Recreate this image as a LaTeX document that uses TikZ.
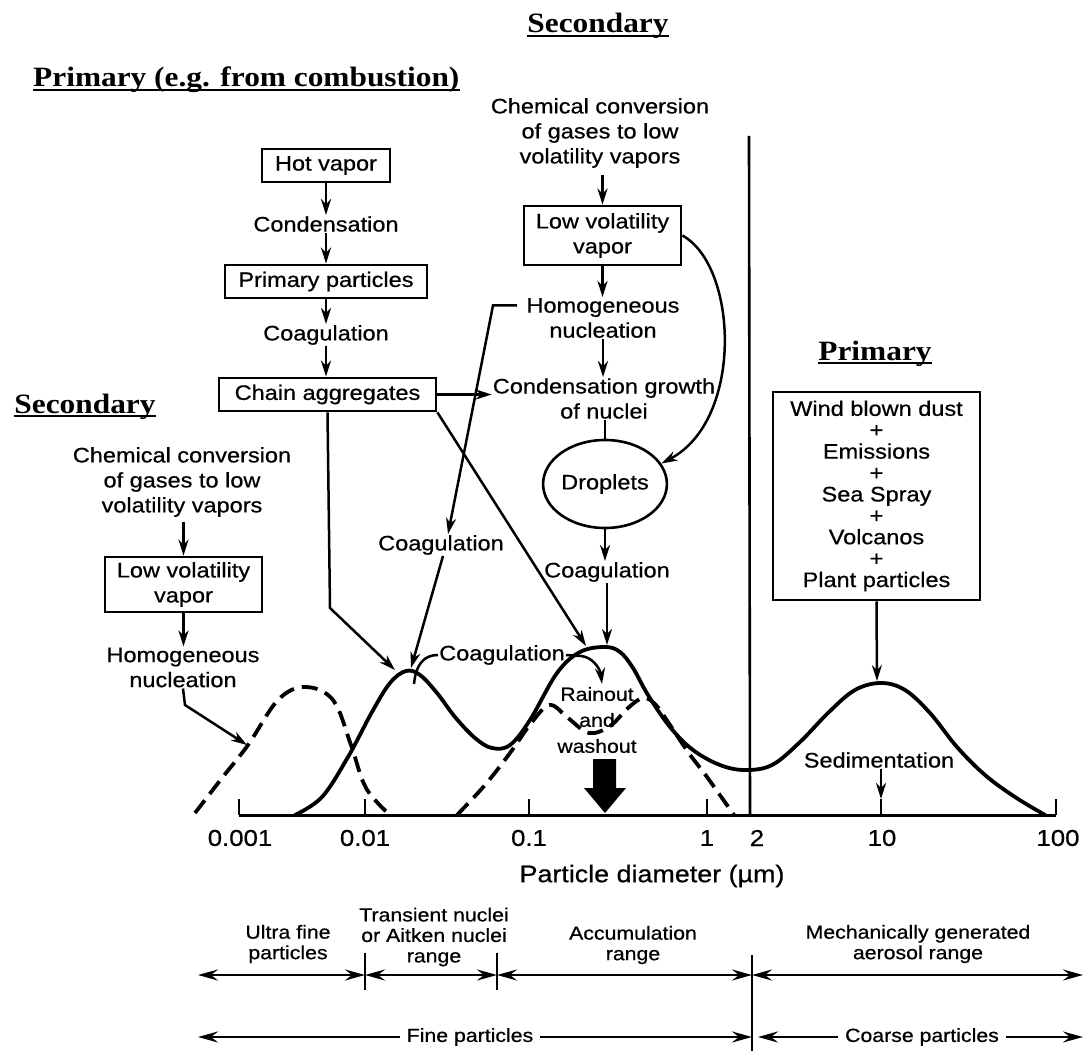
\documentclass[tikz,border=0pt]{standalone}
\usepackage{fontspec}
\setmainfont{Liberation Sans}[FakeStretch=1.12,FakeBold=0.6]
\newfontfamily\headfont{Liberation Serif}[FakeStretch=1.12]
\usetikzlibrary{arrows.meta,shapes.geometric}
\tikzset{
  lbl/.style={align=center, inner sep=1pt, font=\fontsize{21}{25}\selectfont},
  box/.style={draw, line width=2.8pt, inner sep=2pt, align=center, font=\fontsize{21}{25}\selectfont},
  head/.style={inner sep=0pt, font=\headfont\bfseries\fontsize{28}{30}\selectfont},
  uline/.style={line width=2.2pt},
  conn/.style={line width=2.5pt, -{Stealth[length=16pt,width=10pt,inset=5pt]}},
  plainline/.style={line width=2.5pt},
  curve/.style={line width=3.8pt, line join=round, line cap=round},
  dcurve/.style={line width=3.8pt, line join=round, dash pattern=on 16pt off 8pt},
  axnum/.style={font=\fontsize{23}{25}\selectfont, inner sep=0pt},
  rng/.style={align=center, inner sep=1pt, font=\fontsize{19}{20.5}\selectfont},
  dbl/.style={line width=2.6pt, {Stealth[length=20pt,width=11pt,inset=7pt]}-{Stealth[length=20pt,width=11pt,inset=7pt]}},
  one/.style={line width=2.6pt, -{Stealth[length=20pt,width=11pt,inset=7pt]}},
}
\begin{document}
\begin{tikzpicture}[x=1pt,y=-1pt]
\useasboundingbox (0,0) rectangle (1088,1051);
\fill[white] (0,0) rectangle (1088,1051);

% headings
\node[head, anchor=base] (secT) at (598,33) {Secondary};
\draw[uline] ([yshift=-3pt]secT.base west) -- ([yshift=-3pt]secT.base east);
\node[head, anchor=base west] (primT) at (33,87) {Primary (e.g. from combustion)};
\draw[uline] ([yshift=-3pt]primT.base west) -- ([yshift=-3pt]primT.base east);
\node[head, anchor=base] (secL) at (85,413) {Secondary};
\draw[uline] ([yshift=-3pt]secL.base west) -- ([yshift=-3pt]secL.base east);
\node[head, anchor=base] (primR) at (875,360) {Primary};
\draw[uline] ([yshift=-3pt]primR.base west) -- ([yshift=-3pt]primR.base east);

% primary combustion column
\node[box, minimum width=128pt, minimum height=33pt] (hot) at (326,165.5) {Hot vapor};
\node[lbl] (cond) at (326,224) {Condensation};
\node[box, minimum width=202pt, minimum height=33pt] (pp) at (326,281.5) {Primary particles};
\node[lbl] (coag1) at (326,335) {Coagulation};
\node[box, minimum width=217pt, minimum height=33pt] (chain) at (327.5,394.5) {Chain aggregates};
\draw[conn] (hot.south) -- (cond.north);
\draw[conn] (cond.south) -- (pp.north);
\draw[conn] (pp.south) -- (coag1.north);
\draw[conn] (coag1.south) -- (coag1.south |- chain.north);

% secondary top column
\node[lbl] (chemT) at (600,133) {Chemical conversion\\of gases to low\\volatility vapors};
\node[box, minimum width=157pt, minimum height=59pt] (lvT) at (602.5,235.5) {Low volatility\\vapor};
\node[lbl] (homT) at (603,318) {Homogeneous\\nucleation};
\node[lbl] (cgT) at (604,398.5) {Condensation growth\\of nuclei};
\node[draw, ellipse, line width=2.6pt, minimum width=102pt, minimum height=88pt, inner sep=0pt, font=\fontsize{21}{25}\selectfont] (drop) at (605,484) {Droplets};
\node[lbl] (coagR) at (607,572) {Coagulation};
\draw[conn, shorten <=6pt] (chemT.south -| lvT.north) -- (lvT.north);
\draw[conn] (lvT.south) -- (lvT.south |- homT.north);
\draw[conn] (homT.south) -- (homT.south |- cgT.north);
\draw[plainline] (cgT.south -| drop.north) -- (drop.north);
\draw[conn] (drop.south) -- (drop.south |- coagR.north);
\draw[conn] (lvT.east) .. controls (738,266) and (744,420) .. (drop.20);

% secondary left column
\node[lbl] (chemL) at (182,482) {Chemical conversion\\of gases to low\\volatility vapors};
\node[box, minimum width=157pt, minimum height=55pt] (lvL) at (183.5,584.5) {Low volatility\\vapor};
\node[lbl] (homL) at (183,667.5) {Homogeneous\\nucleation};
\draw[conn, shorten <=4pt] (chemL.south -| lvL.north) -- (lvL.north);
\draw[conn] (lvL.south) -- (lvL.south |- homL.north);
\coordinate (nucTip) at (247,745);
\coordinate (nucBend) at (185,705);
\draw[conn] (homL.south) -- (nucBend) -- (nucTip);

% middle labels
\node[lbl] (coagM) at (441,545) {Coagulation};
\node[lbl] (coagLo) at (502,655) {Coagulation};
\node[lbl, font=\fontsize{19}{26}\selectfont] (rain) at (597,720) {Rainout\\and\\washout};
\node[lbl] (sed) at (879,760) {Sedimentation};

% right primary box
\node[box, minimum width=207pt, minimum height=208pt, font=\fontsize{21}{21.4}\selectfont] (wind) at (876.5,496) {Wind blown dust\\+\\Emissions\\+\\Sea Spray\\+\\Volcanos\\+\\Plant particles};

% peak coordinates
\coordinate (pk1a) at (395,670);
\coordinate (pk1b) at (411,668);
\coordinate (pk2a) at (586,646);
\coordinate (pk2b) at (607,645);
\coordinate (pk3) at (877,681);
\coordinate (rainTip) at (602,684);
\coordinate (chainBend) at (330,608);
\coordinate (homStart) at (517,305.5);
\coordinate (homBend) at (493,305.5);

% connectors to peaks
\draw[conn] (chain.south) -- (chainBend) -- (pk1a);
\draw[conn] (chain.south east) -- (pk2a);
\draw[conn] (chain.east) -- (chain.east -| cgT.west);
\draw[conn] (homStart) -- (homBend) -- ([xshift=7pt]coagM.north);
\draw[conn] ([xshift=2pt]coagM.south) -- (pk1b);
\draw[conn] (coagR.south) -- (pk2b);
\draw[conn] (wind.south) -- (pk3);
\draw[plainline] (coagLo.west) .. controls (424,655) and (416,664) .. (414,684);
\coordinate (leadR) at (581,656);
\draw[conn] (coagLo.east) -- (leadR) .. controls (592,657) and (600,668) .. (rainTip);

% big washout arrow
\fill[black] (593,759) -- (616,759) -- (616,788) -- (626,788) -- (605,813) -- (584,788) -- (593,788) -- cycle;

% vertical 2 um line
\coordinate (vTop) at (749,136);
\coordinate (vAx) at (750,815);
\draw[line width=2.6pt] (vTop) -- (vAx);

% axis
\coordinate (axL) at (239,815);
\coordinate (axR) at (1056,815);
\draw[line width=3pt] (axL) -- (axR);
\foreach \x in {239,365,529,707,1056} {\draw[line width=2.4pt] (\x,815) -- (\x,799);}
\coordinate (tk10top) at (881,799);
\coordinate (tk10) at (881,815);
\draw[line width=2.4pt] (tk10top) -- (tk10);
\draw[conn] (sed.south -| tk10) -- (tk10top);

\node[axnum] (n1) at (240,838) {0.001};
\node[axnum] (n2) at (365,838) {0.01};
\node[axnum] (n3) at (529,838) {0.1};
\node[axnum] (n4) at (707,838) {1};
\node[axnum] (n5) at (757,838) {2};
\node[axnum] (n6) at (882,838) {10};
\node[axnum] (n7) at (1058,838) {100};
\node[font=\fontsize{24}{26}\selectfont, inner sep=0pt] (pd) at (652,876) {Particle diameter (µm)};

% curves
\draw[curve] plot[smooth, tension=0.6] coordinates {(295,815) (322,797) (348,757) (372,712) (390,683) (406,671) (420,675) (437,693) (455,717) (475,738) (492,748) (510,745) (530,720) (557,673) (580,652) (605,647) (620,652) (633,668) (648,695) (670,727) (693,750) (720,765) (745,770) (772,765) (800,742) (829,712) (855,690) (881,683) (905,690) (930,713) (957,747) (985,775) (1015,797) (1045,815)};
\draw[dcurve] plot[smooth, tension=0.6] coordinates {(195,813) (222,778) (248,745) (278,700) (305,687) (333,700) (351,745) (366,788) (390,815)};
\draw[dcurve] plot[smooth, tension=0.6] coordinates {(457,815) (485,785) (510,753) (532,722) (550,705) (568,718) (589,733) (610,726) (628,708) (643,698) (655,704) (668,722) (688,752) (707,777) (734,815)};

% range bars
\node[rng] (ultra) at (288,944) {Ultra fine\\particles};
\node[rng] (trans) at (434,937) {Transient nuclei\\or Aitken nuclei\\range};
\node[rng] (accum) at (633,945) {Accumulation\\range};
\node[rng] (mech) at (918,944) {Mechanically generated\\aerosol range};
\coordinate (r0) at (198,975);
\coordinate (r1) at (365,975);
\coordinate (r2) at (497,975);
\coordinate (r3) at (752,975);
\coordinate (r4) at (1083,975);
\draw[dbl] (r0) -- (r1);
\draw[dbl] (r1) -- (r2);
\draw[dbl] (r2) -- (r3);
\draw[dbl] (r3) -- (r4);
\draw[line width=2.4pt] (365,953) -- (365,990);
\draw[line width=2.4pt] (497,953) -- (497,990);
\draw[line width=2.6pt] (752,955) -- (752,1051);

\node[rng] (fine) at (470,1037) {Fine particles};
\node[rng] (coarse) at (922,1037) {Coarse particles};
\coordinate (f0) at (198,1037);
\coordinate (f1) at (752,1037);
\coordinate (c0) at (758,1037);
\coordinate (c1) at (1083,1037);
\draw[one] ([xshift=-6pt]fine.west) -- (f0);
\draw[one] ([xshift=6pt]fine.east) -- (f1);
\draw[one] ([xshift=-6pt]coarse.west) -- (c0);
\draw[one] ([xshift=6pt]coarse.east) -- (c1);
\end{tikzpicture}
\end{document}
